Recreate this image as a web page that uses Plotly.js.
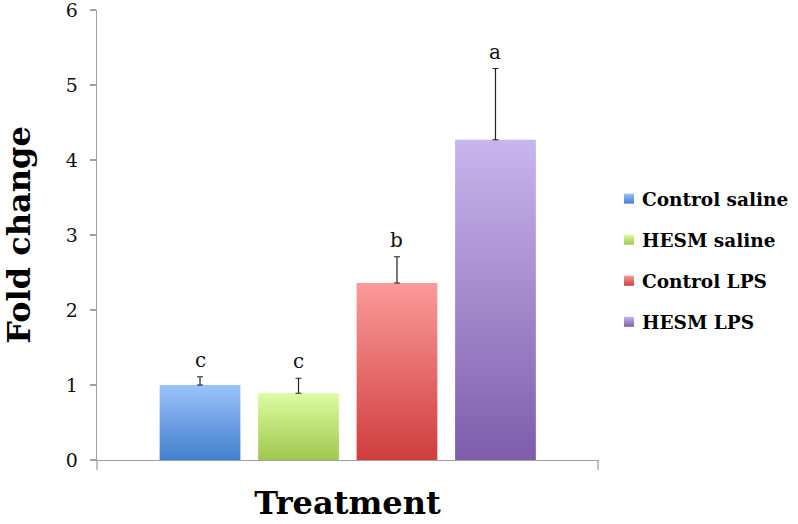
<!DOCTYPE html>
<html>
<head>
<meta charset="utf-8">
<script src="https://cdn.plot.ly/plotly-3.0.1.min.js"></script>
<style>
html,body{margin:0;padding:0;background:#fff;}
#chart{width:798px;height:524px;}
</style>
</head>
<body>
<div id="chart"></div>
<script>
// ---- data ----
const categories = ["Control saline", "HESM saline", "Control LPS", "HESM LPS"];
const foldChange = [1.00, 0.89, 2.36, 4.27];
const errorUpper = [0.11, 0.20, 0.35, 0.95];
const sigLetters = ["c", "c", "b", "a"];
const yTicks = [0, 1, 2, 3, 4, 5, 6];

// ---- styles ----
const flatColors = ["#6d9eea", "#bfe07a", "#e86f6f", "#a98bd6"];
const gradients = [
  ["#9cc3fb", "#417fce"],
  ["#dcfca2", "#9fc84e"],
  ["#fb9a9a", "#cf3d3d"],
  ["#c9b5ee", "#7e5dab"]
];
const serif = "DejaVu Serif, Liberation Serif, serif";

const traces = categories.map((c, i) => ({
  type: "bar",
  name: c,
  x: [c],
  y: [foldChange[i]],
  width: 0.82,
  legendgroup: "g" + i,
  marker: {color: flatColors[i], line: {width: 0}},
  error_y: {
    type: "data", symmetric: false,
    array: [errorUpper[i]], arrayminus: [0],
    color: "#222", thickness: 1.2, width: 3
  },
  hoverinfo: "skip"
}));

const annotations = categories.map((c, i) => ({
  x: c, y: foldChange[i] + errorUpper[i],
  xref: "x", yref: "y",
  text: sigLetters[i],
  showarrow: false,
  yanchor: "bottom", yshift: 3,
  font: {family: serif, size: 20, color: "#111"}
}));

const layout = {
  width: 798, height: 524,
  margin: {l: 97, r: 200, t: 10, b: 64, autoexpand: false},
  paper_bgcolor: "#fff", plot_bgcolor: "#fff",
  barmode: "overlay",
  showlegend: true,
  legend: {
    x: 1.008, y: 0.622, xanchor: "left", yanchor: "top",
    font: {family: serif, size: 18.5, color: "#000", weight: "bold"},
    tracegroupgap: 14, itemwidth: 30, bgcolor: "rgba(0,0,0,0)"
  },
  xaxis: {
    type: "category",
    categoryarray: categories,
    range: [-1.046, 4.041],
    showticklabels: false, ticks: "",
    showgrid: false, zeroline: false,
    showline: true, linecolor: "#a0a0a0", linewidth: 1.3,
    title: {text: "Treatment", standoff: 31,
      font: {family: serif, size: 32, color: "#000", weight: "bold"}}
  },
  yaxis: {
    range: [0, 6],
    tickvals: yTicks,
    ticktext: yTicks.map(String),
    ticks: "outside", ticklen: 6, tickcolor: "#a0a0a0", tickwidth: 1.3,
    ticklabelstandoff: 8,
    ticklabeloverflow: "allow",
    showgrid: false, zeroline: false,
    showline: true, linecolor: "#a0a0a0", linewidth: 1.3,
    tickfont: {family: serif, size: 19, color: "#111"},
    title: {text: "Fold change", standoff: 33,
      font: {family: serif, size: 32, color: "#000", weight: "bold"}}
  },
  annotations: annotations,
  shapes: [
    {type: "line", xref: "paper", yref: "paper", x0: 0, x1: 0, y0: 0, y1: -0.022,
     line: {color: "#a0a0a0", width: 1.3}},
    {type: "line", xref: "paper", yref: "paper", x0: 1, x1: 1, y0: 0, y1: -0.022,
     line: {color: "#a0a0a0", width: 1.3}}
  ]
};

Plotly.newPlot("chart", traces, layout, {displayModeBar: false, staticPlot: true}).then(gd => {
  const svg = gd.querySelector("svg.main-svg");
  const ns = "http://www.w3.org/2000/svg";
  let defs = svg.querySelector("defs");
  if (!defs) { defs = document.createElementNS(ns, "defs"); svg.insertBefore(defs, svg.firstChild); }
  gradients.forEach((g, i) => {
    const lg = document.createElementNS(ns, "linearGradient");
    lg.setAttribute("id", "barGrad" + i);
    lg.setAttribute("x1", "0"); lg.setAttribute("y1", "0");
    lg.setAttribute("x2", "0"); lg.setAttribute("y2", "1");
    [[0, g[0]], [1, g[1]]].forEach(([o, c]) => {
      const s = document.createElementNS(ns, "stop");
      s.setAttribute("offset", o); s.setAttribute("stop-color", c);
      lg.appendChild(s);
    });
    defs.appendChild(lg);
  });
  const barTraces = gd.querySelectorAll(".barlayer .trace.bars");
  barTraces.forEach((t, i) => {
    t.querySelectorAll(".point path").forEach(p => { p.style.fill = "url(#barGrad" + i + ")"; });
  });
  const legendItems = gd.querySelectorAll(".legend .traces");
  legendItems.forEach((t, i) => {
    t.querySelectorAll(".legendpoints path").forEach(p => {
      p.setAttribute("d", "M12,5H2V-5H12Z");
      p.style.fill = "url(#barGrad" + i + ")";
      p.style.stroke = "none";
    });
  });
});
</script>
</body>
</html>
